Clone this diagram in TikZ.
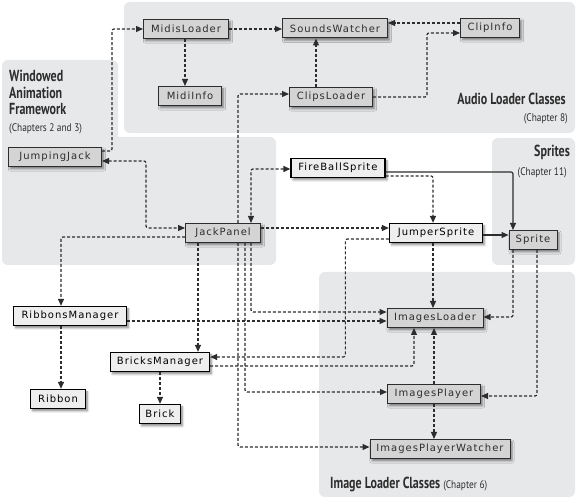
\documentclass[tikz,border=0pt]{standalone}
\usepackage{fontspec}
\setmainfont{DejaVu Sans}
\newfontfamily\boxfont[LetterSpace=10]{DejaVu Sans}
\newfontfamily\titlefont[FakeStretch=0.75]{PT Sans}
\newfontfamily\subfont[FakeStretch=0.85]{PT Sans}
\usetikzlibrary{arrows.meta,shadows.blur}

\definecolor{panelgray}{RGB}{231,232,234}
\definecolor{boxgray}{RGB}{212,212,212}
\definecolor{boxlight}{RGB}{238,238,238}
\definecolor{inkgray}{RGB}{45,45,45}

\tikzset{
  cls/.style={draw=inkgray,fill=boxgray,line width=1pt,font=\boxfont\fontsize{10}{12}\selectfont,text=inkgray,minimum height=19pt,inner xsep=5pt,inner ysep=0pt,blur shadow={shadow xshift=2pt,shadow yshift=-2.5pt,shadow blur steps=5,shadow opacity=45}},
  clsl/.style={cls,fill=boxlight,draw=black,line width=1.3pt,text=black},
  dep/.style={->,dash pattern=on 3pt off 2pt,line width=1.2pt,draw=inkgray,rounded corners=2pt},
  uses/.style={->,line width=1.2pt,draw=inkgray,rounded corners=2pt},
  panel/.style={fill=panelgray,rounded corners=6pt},
  paneltitle/.style={font=\titlefont\bfseries\fontsize{16}{16.5}\selectfont,text=inkgray,inner sep=0pt},
  panelsub/.style={font=\subfont\fontsize{11}{13}\selectfont,text=inkgray,inner sep=0pt}
}

\begin{document}
\begin{tikzpicture}[x=1pt,y=1pt,>={Triangle[length=7pt,width=6pt]}]
\useasboundingbox (0,0) rectangle (578,500);
% package panels
\fill[panel] (124,367) rectangle (575,498);
\fill[panel] (2,235) rectangle (118,440);
\fill[panel] (2,235) rectangle (276,363);
\fill[panel] (492,235) rectangle (575,362);
\fill[panel] (319,3) rectangle (575,228);
% panel titles
\node[paneltitle,anchor=base east] (audioTitle) at (566,395) {Audio Loader Classes};
\node[panelsub,anchor=base east] (audioSub) at (568,378) {(Chapter 8)};
\node[paneltitle,anchor=base east] (spriteTitle) at (570,343) {Sprites};
\node[panelsub,anchor=base east] (spriteSub) at (567,324) {(Chapter 11)};
\node[paneltitle,anchor=base west,align=left] (wafTitle) at (9,385) {Windowed\\Animation\\Framework};
\node[panelsub,anchor=base west] (wafSub) at (9,368) {(Chapters 2 and 3)};
\node[paneltitle,anchor=base west] (imgTitle) at (330,11) {Image Loader Classes {\subfont\fontsize{11}{13}\selectfont\mdseries (Chapter 6)}};
% classes
\node[cls,minimum width=85pt] (midis) at (186,471) {MidisLoader};
\node[cls,minimum width=105pt] (sounds) at (335,471.5) {SoundsWatcher};
\node[cls,minimum width=59pt] (clipinfo) at (490,472) {ClipInfo};
\node[cls,minimum width=63pt] (midiinfo) at (190,404) {MidiInfo};
\node[cls,minimum width=83pt] (clips) at (331,403) {ClipsLoader};
\node[cls,minimum width=93pt] (jj) at (55,343) {JumpingJack};
\node[clsl,minimum width=94pt] (fireball) at (338,332) {FireBallSprite};
\node[cls,minimum width=75pt] (jack) at (223,267) {JackPanel};
\node[clsl,minimum width=93pt] (jumper) at (436,267) {JumperSprite};
\node[cls,minimum width=48pt] (sprite) at (533,260) {Sprite};
\node[clsl,minimum width=113pt] (ribbons) at (70,184) {RibbonsManager};
\node[cls,minimum width=96pt] (images) at (435,182) {ImagesLoader};
\node[clsl,minimum width=99pt] (bricks) at (160,138) {BricksManager};
\node[clsl,minimum width=55pt] (ribbon) at (58,101) {Ribbon};
\node[clsl,minimum width=41pt] (brick) at (160,86) {Brick};
\node[cls,minimum width=93pt] (player) at (434,106) {ImagesPlayer};
\node[cls,minimum width=140pt] (watcher) at (440,51) {ImagesPlayerWatcher};
% audio links
\draw[dep] ([yshift=6]jj.east) -- ++(10,0) |- (midis.west);
\draw[dep] (midis.east) -- (midis.east -| sounds.west);
\draw[dep] ([xshift=-1]midis.south) -- ([xshift=-1]midis.south |- midiinfo.north);
\draw[dep] ([yshift=5]clipinfo.west) -- ([yshift=5]clipinfo.west -| sounds.east);
\draw[dep] ([xshift=-15]clips.north) -- ([xshift=-15]clips.north |- sounds.south);
\draw[dep] (clips.east) -- ++(54,0) |- ([yshift=-5]clipinfo.west);
\draw[dep] ([xshift=15]jack.north) |- ([yshift=3]clips.west);
% framework and sprites
\draw[dep,<->] ([yshift=-4]jj.east) -- ++(44,0) |- ([yshift=5]jack.west);
\draw[dep,<->] ([yshift=-1]fireball.west) -| ([xshift=28]jack.north);
\draw[dep] ([yshift=-8]fireball.east) -| ([xshift=-3]jumper.north);
\draw[uses] ([yshift=-4]fireball.east) -| ([xshift=-20]sprite.north);
\draw[uses] ([yshift=-2]jumper.east) -- ([yshift=-2]jumper.east -| sprite.west);
\draw[dep] ([yshift=5]jack.east) -- ([yshift=5]jack.east -| jumper.west);
\draw[dep] ([yshift=-6]jumper.west) -- ++(-43.5,0) |- ([yshift=5]bricks.east);
\draw[dep] ([yshift=-4]jack.west) -| ([xshift=-9]ribbons.north);
\draw[dep] ([xshift=-9]ribbons.south) -- ([xshift=-9]ribbons.south |- ribbon.north);
\draw[dep] ([xshift=-25]jack.south) -- ([xshift=-25]jack.south |- bricks.north);
\draw[dep] (bricks.south) -- (bricks.south |- brick.north);
% image links
\draw[dep] ([xshift=-3]jumper.south) -- ([xshift=-3]jumper.south |- images.north);
\draw[dep] ([xshift=-20]sprite.south) |- ([yshift=1]images.east);
\draw[dep] ([xshift=4]sprite.south) |- ([yshift=-2]player.east);
\draw[dep] ([yshift=-5]ribbons.east) -- ([yshift=-5]ribbons.east -| images.west);
\draw[dep] ([xshift=28]jack.south) |- ([yshift=6]images.west);
\draw[dep] ([yshift=-4]bricks.east) -| ([xshift=-21]images.south);
\draw[dep] (player.north) -- (player.north |- images.south);
\draw[dep] (player.south) -- (player.south |- watcher.north);
\draw[dep] ([xshift=22]jack.south) |- ([yshift=2]player.west);
\draw[dep] ([xshift=15]jack.south) |- ([yshift=2]watcher.west);
\end{tikzpicture}
\end{document}
